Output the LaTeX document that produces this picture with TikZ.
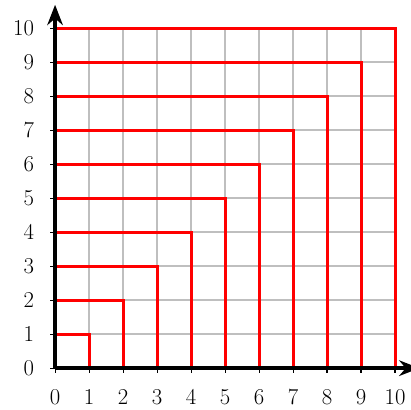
\documentclass[tikz,border=0pt]{standalone}
\usepackage{tikz}
\usetikzlibrary{arrows.meta}

\begin{document}
\begin{tikzpicture}[
  gridline/.style={draw=black!25, line width=1.2pt},
  axis/.style={-{Stealth[length=17pt,width=13pt]}, line width=3.3pt},
  tick/.style={line width=0.9pt},
  lshape/.style={draw=red, line width=2.5pt},
  numlabel/.style={font=\fontsize{19}{21}\selectfont, inner sep=1pt},
]
  \useasboundingbox (-1.62,-1.23) rectangle (10.47,10.83);
  % grid
  \foreach \k in {1,...,10} {
    \draw[gridline] (\k,0) -- (\k,10);
    \draw[gridline] (0,\k) -- (10,\k);
  }
  % the nested L shapes
  \foreach \k in {1,...,10}
    \draw[lshape] (0,\k) -- (\k,\k) -- (\k,0);
  % axes
  \coordinate (O) at (0,0);
  \coordinate (xend) at (10.72,0);
  \coordinate (yend) at (0,10.69);
  \draw[axis] (O) -- (xend);
  \draw[axis] (O) -- (yend);
  % ticks and labels
  \foreach \k in {0,...,10} {
    \draw[tick] (\k,0) -- (\k,-0.15);
    \draw[tick] (0,\k) -- (-0.15,\k);
    \node[numlabel] (xl\k) at (\k,-0.84) {\k};
    \node[numlabel, anchor=east] (yl\k) at (-0.58,\k) {\k};
  }
\end{tikzpicture}
\end{document}
